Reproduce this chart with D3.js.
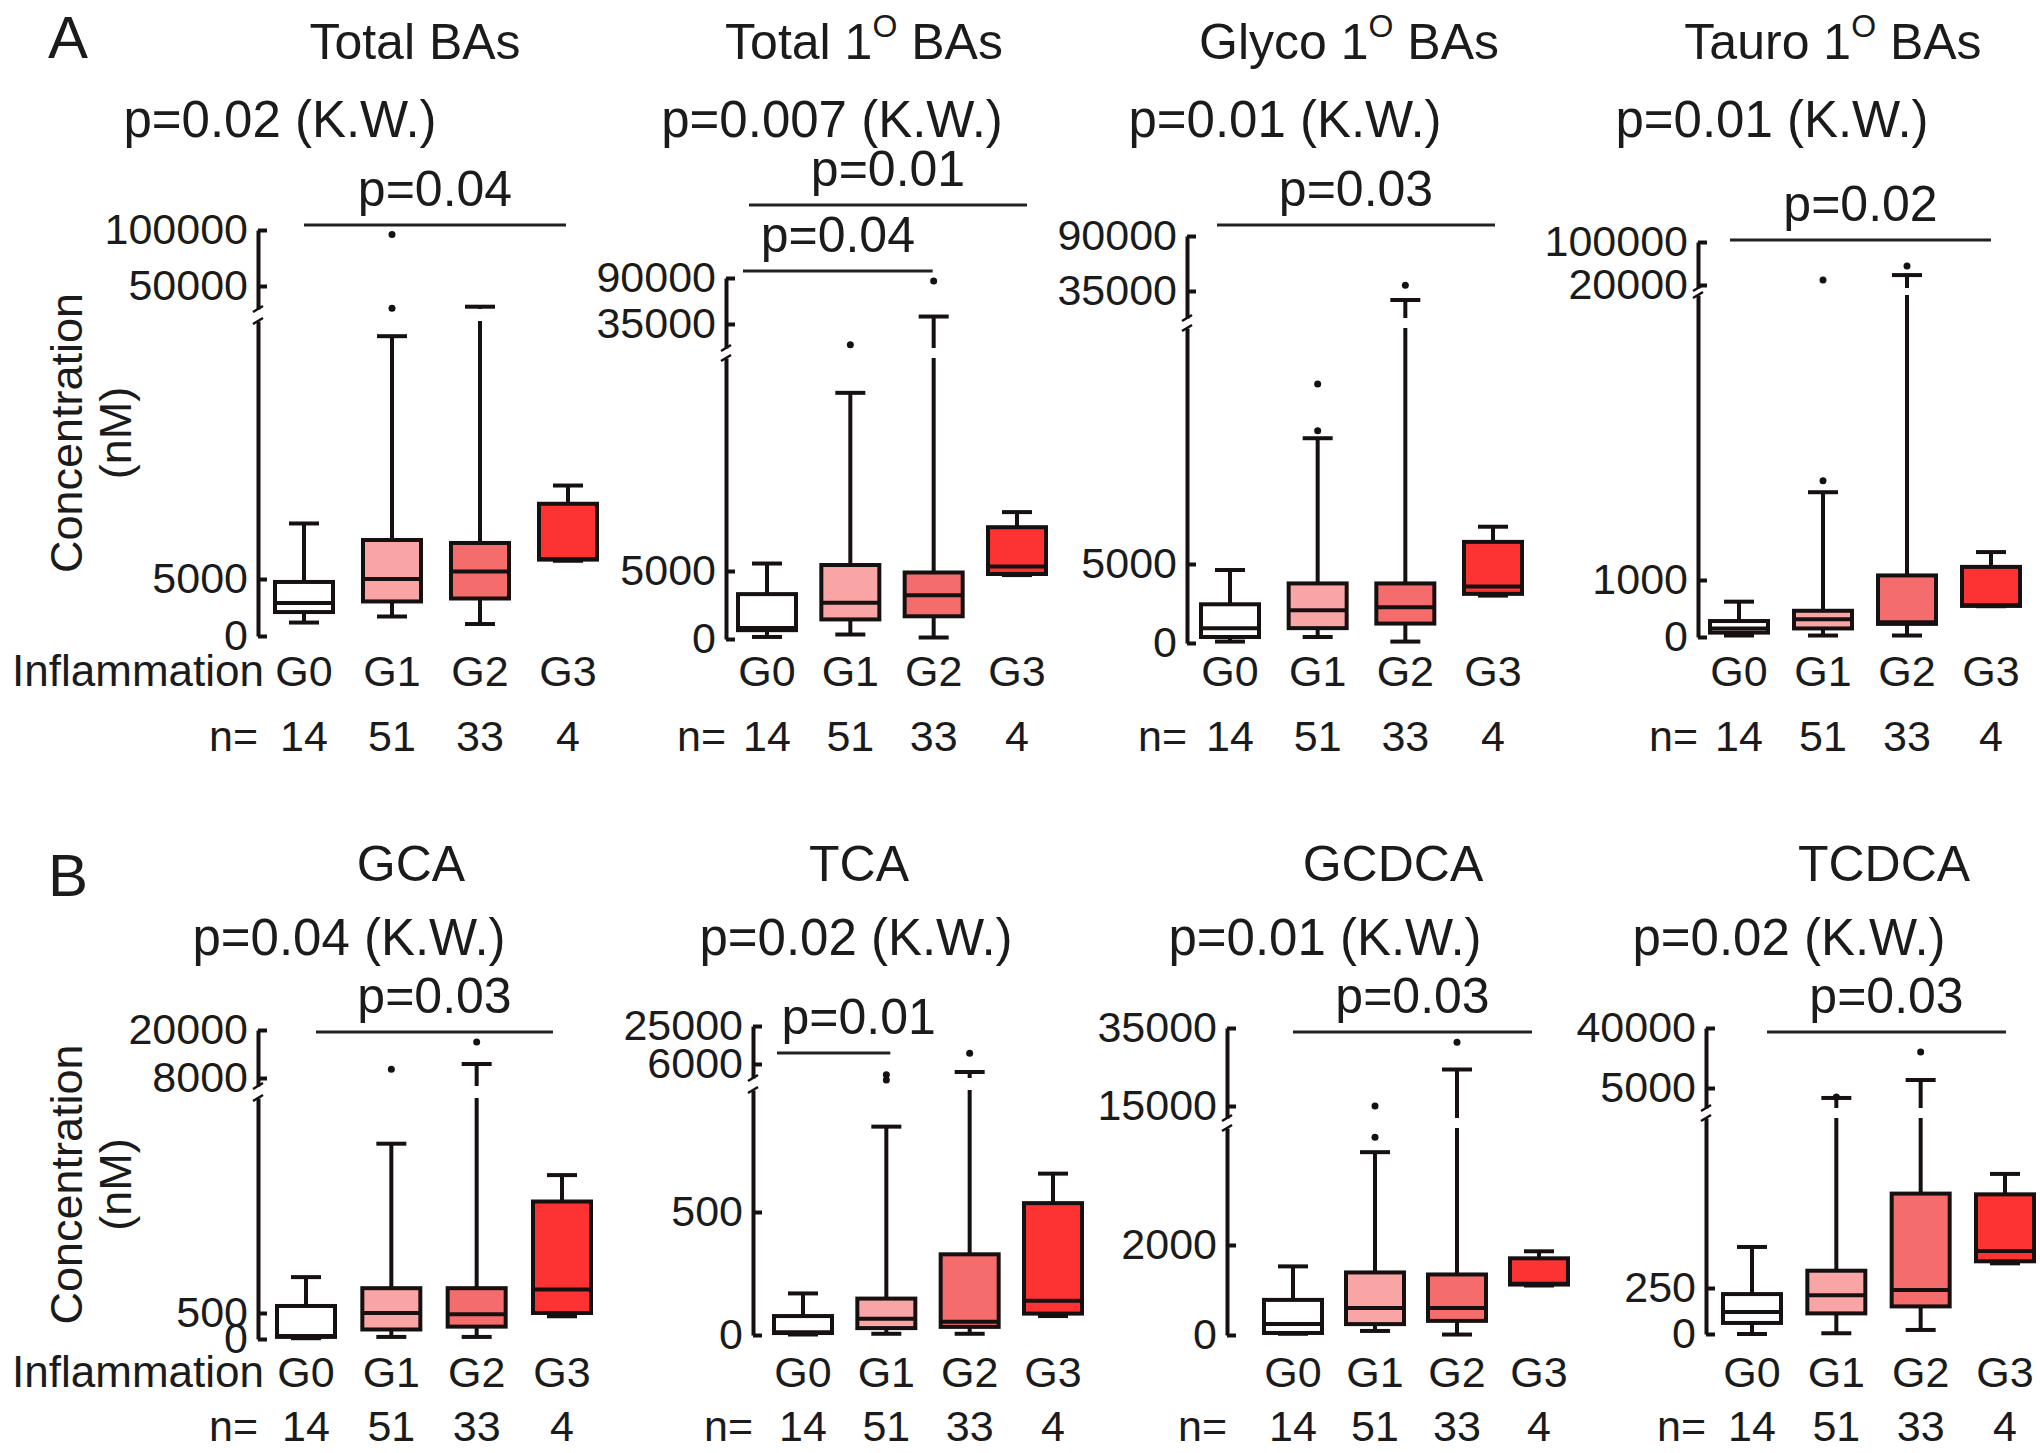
<!DOCTYPE html>
<html>
<head>
<meta charset="utf-8">
<script src="https://cdn.jsdelivr.net/npm/d3@7"></script>
<style>
  body { margin: 0; background: #fff; }
  svg text { font-family: "Liberation Sans", Arial, sans-serif; fill: #1b1b1b; }
</style>
</head>
<body>
<svg id="chart" width="2040" height="1453"></svg>
<script>
// groups and counts, same for all panels
const groups = ["G0", "G1", "G2", "G3"];
const nValues = [14, 51, 33, 4];

// titles (second item is the superscript)
const titles = [
    ["Total BAs", "", ""],
    ["Total 1", "O", " BAs"],
    ["Glyco 1", "O", " BAs"],
    ["Tauro 1", "O", " BAs"],
    ["GCA", "", ""],
    ["TCA", "", ""],
    ["GCDCA", "", ""],
    ["TCDCA", "", ""]
];
const kwLabels = ["p=0.02 (K.W.)", "p=0.007 (K.W.)", "p=0.01 (K.W.)", "p=0.01 (K.W.)",
                  "p=0.04 (K.W.)", "p=0.02 (K.W.)", "p=0.01 (K.W.)", "p=0.02 (K.W.)"];

// tick values: [0, lower tick, upper tick 1, upper tick 2]
const ticksTotalBAs = [0, 5000, 50000, 100000];
const ticksTotal1 = [0, 5000, 35000, 90000];
const ticksGlyco1 = [0, 5000, 35000, 90000];
const ticksTauro1 = [0, 1000, 20000, 100000];
const ticksGCA = [0, 500, 8000, 20000];
const ticksTCA = [0, 500, 6000, 25000];
const ticksGCDCA = [0, 2000, 15000, 35000];
const ticksTCDCA = [0, 250, 5000, 40000];

// box stats per group: [min, q1, median, q3, max]  (nM)
const statsTotalBAs = [[1180, 2100, 2900, 4740, 9870], [1710, 3030, 5000, 8420, 26300], [1050, 3290, 5660, 8160, 38700], [6600, 6700, 6750, 11600, 13200]];
const statsTotal1 = [[150, 650, 800, 3300, 5550], [330, 1440, 2670, 5440, 18100], [110, 1670, 3220, 4890, 40800], [4700, 4780, 5330, 8220, 9330]];
const statsGlyco1 = [[90, 380, 940, 2450, 4620], [380, 940, 2070, 3770, 12960], [90, 1230, 2260, 3770, 30000], [3000, 3110, 3580, 6400, 7360]];
const statsTauro1 = [[26, 77, 150, 280, 620], [26, 150, 310, 460, 2540], [26, 230, 260, 1080, 29000], [540, 545, 560, 1230, 1490]];
const statsGCA = [[15, 40, 60, 635, 1190], [40, 183, 500, 977, 3756], [40, 238, 476, 977, 10450], [437, 500, 953, 2644, 3152]];
const statsTCA = [[2, 8, 11, 77, 169], [5, 28, 66, 148, 847], [5, 33, 54, 328, 4440], [77, 87, 139, 536, 656]];
const statsGCDCA = [[27, 45, 242, 780, 1525], [90, 242, 600, 1390, 4063], [10, 314, 600, 1345, 22300], [1100, 1121, 1140, 1704, 1860]];
const statsTCDCA = [[0, 60, 120, 217, 473], [4, 112, 210, 344, 3540], [22, 150, 239, 763, 6600], [384, 395, 451, 759, 870]];

// outliers per group
const outTotalBAs = [[], [38000, 94700], [], []];
const outTotal1 = [[], [22900], [84800], []];
const outGlyco1 = [[], [13430, 16400], [38700], []];
const outTauro1 = [[], [2740, 24100], [40700], []];
const outGCA = [[], [9460], [15900], []];
const outTCA = [[], [4000, 3300], [9000], []];
const outGCDCA = [[], [4395, 15000], [30000], []];
const outTCDCA = [[], [3650], [17400], []];

// pairwise comparisons (group index from, to, label)
const brTotalBAs = [[0, 3, "p=0.04"]];
const brTotal1 = [[0, 3, "p=0.01"], [0, 2, "p=0.04"]];
const brGlyco1 = [[0, 3, "p=0.03"]];
const brTauro1 = [[0, 3, "p=0.02"]];
const brGCA = [[0, 3, "p=0.03"]];
const brTCA = [[0, 1, "p=0.01"]];
const brGCDCA = [[0, 3, "p=0.03"]];
const brTCDCA = [[0, 3, "p=0.03"]];

const panels = [
    {ticks: ticksTotalBAs, stats: statsTotalBAs, out: outTotalBAs, br: brTotalBAs},
    {ticks: ticksTotal1, stats: statsTotal1, out: outTotal1, br: brTotal1},
    {ticks: ticksGlyco1, stats: statsGlyco1, out: outGlyco1, br: brGlyco1},
    {ticks: ticksTauro1, stats: statsTauro1, out: outTauro1, br: brTauro1},
    {ticks: ticksGCA, stats: statsGCA, out: outGCA, br: brGCA},
    {ticks: ticksTCA, stats: statsTCA, out: outTCA, br: brTCA},
    {ticks: ticksGCDCA, stats: statsGCDCA, out: outGCDCA, br: brGCDCA},
    {ticks: ticksTCDCA, stats: statsTCDCA, out: outTCDCA, br: brTCDCA}
];

// layout (pixels)
const rows = [
    {titleY: 59, kwY: 137, gY: 686, nY: 751, letter: "A", letterY: 58},
    {titleY: 881, kwY: 955, gY: 1387, nY: 1441, letter: "B", letterY: 896}
];
const layout = [
    {row: 0, ax: 258, g0: 304, g3: 568, y0: 636, yMid: 579, lowTop: 321, upBot: 309, yUpA: 286, yUpB: 230, tx: 415, kx: 280, br: [[225, 0, -2, 0]]},
    {row: 0, ax: 726, g0: 767, g3: 1017, y0: 639, yMid: 571, lowTop: 358, upBot: 348, yUpA: 324, yUpB: 278, tx: 864, kx: 832, br: [[205, -18, 10, 0], [271, -24, -1, 0]]},
    {row: 0, ax: 1187, g0: 1230, g3: 1493, y0: 643, yMid: 564, lowTop: 328, upBot: 318, yUpA: 291, yUpB: 236, tx: 1349, kx: 1285, br: [[225, -13, 2, 0]]},
    {row: 0, ax: 1698, g0: 1739, g3: 1991, y0: 637, yMid: 580, lowTop: 295, upBot: 288, yUpA: 285, yUpB: 242, tx: 1833, kx: 1772, br: [[240, -9, 0, 0]]},
    {row: 1, ax: 258, g0: 306, g3: 562, y0: 1339, yMid: 1313, lowTop: 1098, upBot: 1086, yUpA: 1078, yUpB: 1030, tx: 411, kx: 349, br: [[1032, 10, -9, 0]]},
    {row: 1, ax: 753, g0: 803, g3: 1053, y0: 1335, yMid: 1212, lowTop: 1090, upBot: 1078, yUpA: 1064, yUpB: 1026, tx: 859, kx: 856, br: [[1053, -26, 4, 25]]},
    {row: 1, ax: 1227, g0: 1293, g3: 1539, y0: 1335, yMid: 1245, lowTop: 1128, upBot: 1118, yUpA: 1106, yUpB: 1028, tx: 1393, kx: 1325, br: [[1032, 0, -7, 0]]},
    {row: 1, ax: 1706, g0: 1752, g3: 2005, y0: 1334, yMid: 1288, lowTop: 1118, upBot: 1108, yUpA: 1088, yUpB: 1028, tx: 1884, kx: 1789, br: [[1032, 15, 1, 0]]}
];

const fills = ["#ffffff", "#f9a5a5", "#f56c6c", "#fd3232"];
const ink = "#161010";
const boxW = 58, capW = 30, lw = 4;

const svg = d3.select("#chart");
svg.append("rect").attr("width", 2040).attr("height", 1453).attr("fill", "#fff");

function drawPanel(i) {
    const p = panels[i], L = layout[i], R = rows[L.row];
    const g = svg.append("g");

    const x = d3.scalePoint().domain(groups).range([L.g0, L.g3]);

    // broken axis: linear lower segment, log upper segment
    const lower = d3.scaleLinear().domain([0, p.ticks[1]]).range([L.y0, L.yMid]);
    const lowMax = lower.invert(L.lowTop);
    lower.domain([0, lowMax]).range([L.y0, L.lowTop]);
    const upper = d3.scaleLog().domain([p.ticks[2], p.ticks[3]]).range([L.yUpA, L.yUpB]);
    const upMin = upper.invert(L.upBot);
    upper.domain([upMin, p.ticks[3]]).range([L.upBot, L.yUpB]);
    const y = v => v <= lowMax ? lower(v) : upper(v);

    const styleAxis = sel => {
        sel.select(".domain").attr("stroke", ink).attr("stroke-width", lw);
        sel.selectAll(".tick line").attr("stroke", ink).attr("stroke-width", lw);
        sel.selectAll(".tick text").style("font-size", "43px").attr("fill", "#1b1b1b")
            .style("font-family", '"Liberation Sans", Arial, sans-serif');
    };
    g.append("g").attr("transform", "translate(" + L.ax + ",0)")
        .call(d3.axisLeft(lower).tickValues([0, p.ticks[1]]).tickSizeInner(-9).tickSizeOuter(0)
            .tickPadding(10).tickFormat(d3.format("d")))
        .call(styleAxis);
    g.append("g").attr("transform", "translate(" + L.ax + ",0)")
        .call(d3.axisLeft(upper).tickValues([p.ticks[2], p.ticks[3]]).tickSizeInner(-9).tickSizeOuter(0)
            .tickPadding(10).tickFormat(d3.format("d")))
        .call(styleAxis);

    // break marks
    [L.upBot, L.lowTop].forEach(function(yy) {
        g.append("line")
            .attr("x1", L.ax - 5).attr("x2", L.ax + 5)
            .attr("y1", yy + 3).attr("y2", yy - 3)
            .attr("stroke", ink).attr("stroke-width", 2.5);
    });

    // vertical segment that skips the axis break
    const vseg = function(cx, a, b) {
        const lo = Math.min(a, b), hi = Math.max(a, b);
        if (lo <= lowMax && hi > lowMax) {
            g.append("line").attr("x1", cx).attr("x2", cx).attr("y1", y(lo)).attr("y2", L.lowTop)
                .attr("stroke", ink).attr("stroke-width", lw);
            g.append("line").attr("x1", cx).attr("x2", cx).attr("y1", L.upBot).attr("y2", y(hi))
                .attr("stroke", ink).attr("stroke-width", lw);
        } else {
            g.append("line").attr("x1", cx).attr("x2", cx).attr("y1", y(lo)).attr("y2", y(hi))
                .attr("stroke", ink).attr("stroke-width", lw);
        }
    };

    p.stats.forEach(function(s, k) {
        const cx = x(groups[k]);
        vseg(cx, s[3], s[4]);
        vseg(cx, s[0], s[1]);
        [s[0], s[4]].forEach(function(v) {
            g.append("line").attr("x1", cx - capW / 2).attr("x2", cx + capW / 2)
                .attr("y1", y(v)).attr("y2", y(v))
                .attr("stroke", ink).attr("stroke-width", lw);
        });
        g.append("rect")
            .attr("x", cx - boxW / 2).attr("width", boxW)
            .attr("y", y(s[3])).attr("height", y(s[1]) - y(s[3]))
            .attr("fill", fills[k]).attr("stroke", ink).attr("stroke-width", lw);
        g.append("line").attr("x1", cx - boxW / 2).attr("x2", cx + boxW / 2)
            .attr("y1", y(s[2])).attr("y2", y(s[2]))
            .attr("stroke", ink).attr("stroke-width", lw);
        p.out[k].forEach(function(v) {
            g.append("circle").attr("cx", cx).attr("cy", y(v)).attr("r", 3.5).attr("fill", ink);
        });
    });

    // comparison brackets
    p.br.forEach(function(b, j) {
        const bl = L.br[j];
        const x1 = x(groups[b[0]]) + bl[1], x2 = x(groups[b[1]]) + bl[2];
        g.append("line").attr("x1", x1).attr("x2", x2).attr("y1", bl[0]).attr("y2", bl[0])
            .attr("stroke", "#222").attr("stroke-width", 3);
        g.append("text").attr("x", (x1 + x2) / 2 + bl[3]).attr("y", bl[0] - 19)
            .attr("text-anchor", "middle").style("font-size", "50px").text(b[2]);
    });

    // title
    const t = g.append("text").attr("x", L.tx).attr("y", R.titleY)
        .attr("text-anchor", "middle").style("font-size", "50px");
    t.append("tspan").text(titles[i][0]);
    if (titles[i][1]) {
        t.append("tspan").attr("dy", -22).style("font-size", "32px").text(titles[i][1]);
        t.append("tspan").attr("dy", 22).text(titles[i][2]);
    }
    g.append("text").attr("x", L.kx).attr("y", R.kwY)
        .attr("text-anchor", "middle").style("font-size", "51px").text(kwLabels[i]);

    // group labels and counts
    groups.forEach(function(gr, k) {
        g.append("text").attr("x", x(gr)).attr("y", R.gY).attr("text-anchor", "middle")
            .style("font-size", "43px").text(gr);
        g.append("text").attr("x", x(gr)).attr("y", R.nY).attr("text-anchor", "middle")
            .style("font-size", "43px").text(nValues[k]);
    });
    g.append("text").attr("x", L.ax).attr("y", R.nY).attr("text-anchor", "end")
        .style("font-size", "43px").text("n=");

    if (i % 4 === 0) {
        g.append("text").attr("x", L.ax + 6).attr("y", R.gY).attr("text-anchor", "end")
            .style("font-size", "44px").text("Inflammation");
        const cy = (L.y0 + L.yUpB) / 2;
        g.append("text").attr("transform", "translate(82," + cy + ") rotate(-90)")
            .attr("text-anchor", "middle").style("font-size", "45px").text("Concentration");
        g.append("text").attr("transform", "translate(131," + cy + ") rotate(-90)")
            .attr("text-anchor", "middle").style("font-size", "45px").text("(nM)");
        g.append("text").attr("x", 48).attr("y", R.letterY).style("font-size", "60px").text(R.letter);
    }
}

panels.forEach(function(p, i) { drawPanel(i); });
</script>
</body>
</html>
